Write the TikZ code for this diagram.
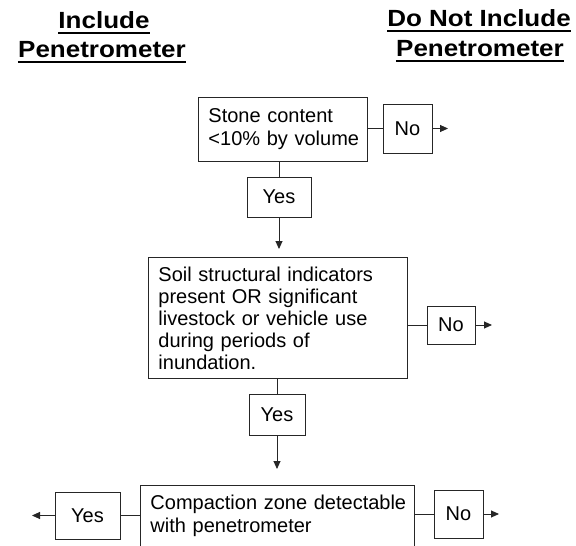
\documentclass[tikz,border=0pt]{standalone}
\usepackage{graphicx}
\usepackage{fontspec}
\setmainfont{Liberation Sans}
\usetikzlibrary{arrows.meta}
\begin{document}
\begin{tikzpicture}[x=1pt,y=-1pt,
  box/.style={draw=black!85, line width=0.9pt, rectangle, inner sep=0pt, font=\fontsize{20}{23}\selectfont},
  tbox/.style={box, anchor=north west, align=left, inner xsep=10pt},
  conn/.style={draw=black!85, line width=0.9pt},
  arr/.style={conn, -{Triangle[length=8pt,width=7pt]}},
  head/.style={inner sep=0pt, anchor=base, font=\bfseries\fontsize{26}{30}\selectfont},
  uline/.style={line width=2pt}
]
\useasboundingbox (0,0) rectangle (576,546);
\clip (0,0) rectangle (576,546);
\fill[white] (0,0) rectangle (576,546);

% headers
\node[head] (h1) at (104,28) {\scalebox{1}[0.9]{Include}};
\node[head] (h2) at (102,57) {\scalebox{1}[0.9]{Penetrometer}};
\node[head] (h3) at (479,26) {\scalebox{1}[0.9]{Do Not Include}};
\node[head] (h4) at (480,56) {\scalebox{1}[0.9]{Penetrometer}};
\foreach \h in {h1,h2,h3,h4}
  \draw[uline] ([yshift=-5pt]\h.base west) -- ([yshift=-5pt]\h.base east);

% boxes
\node[tbox, minimum width=169pt, minimum height=64pt, text width=149pt] (A) at (198,97) {\mbox{Stone content}\\\mbox{<10\% by volume}};
\node[box, minimum width=49pt, minimum height=49pt] (nA) at (407.5,128.5) {No};
\node[box, minimum width=64pt, minimum height=40pt] (yA) at (279,197) {Yes};

\node[tbox, minimum width=259pt, minimum height=121pt, text width=239pt, font=\fontsize{20}{22}\selectfont] (B) at (148,257) {\mbox{Soil structural indicators}\\\mbox{present OR significant}\\\mbox{livestock or vehicle use}\\\mbox{during periods of}\\\mbox{inundation.}};
\node[box, minimum width=48pt, minimum height=38pt] (nB) at (451,325) {No};
\node[box, minimum width=56pt, minimum height=41pt] (yB) at (277,414.5) {Yes};

\node[tbox, text width=254pt, inner ysep=9.5pt, text depth=45pt] (C) at (140,485) {\mbox{Compaction zone detectable}\\\mbox{with penetrometer}};
\node[box, minimum width=65pt, minimum height=47pt] (yC) at (87.5,515.5) {Yes};
\node[box, minimum width=49pt, minimum height=48pt] (nC) at (458.5,514) {No};

% free arrow ends
\coordinate (eA) at (448,128.5);
\coordinate (eB) at (492,325);
\coordinate (eC1) at (32,515.5);
\coordinate (eC2) at (499,514);

% connectors
\draw[conn] (A.east |- nA.west) -- (nA.west);
\draw[arr] (nA.east) -- (eA);
\draw[conn] (A.south -| yA.north) -- (yA.north);
\draw[arr, shorten >=8pt] (yA.south) -- (yA.south |- B.north);
\draw[conn] (B.east |- nB.west) -- (nB.west);
\draw[arr] (nB.east) -- (eB);
\draw[conn] (B.south -| yB.north) -- (yB.north);
\draw[arr, shorten >=16pt] (yB.south) -- (yB.south |- C.north);
\draw[conn] (yC.east) -- (yC.east -| C.west);
\draw[arr] (yC.west) -- (eC1);
\draw[conn] (C.east |- nC.west) -- (nC.west);
\draw[arr] (nC.east) -- (eC2);
\end{tikzpicture}
\end{document}
